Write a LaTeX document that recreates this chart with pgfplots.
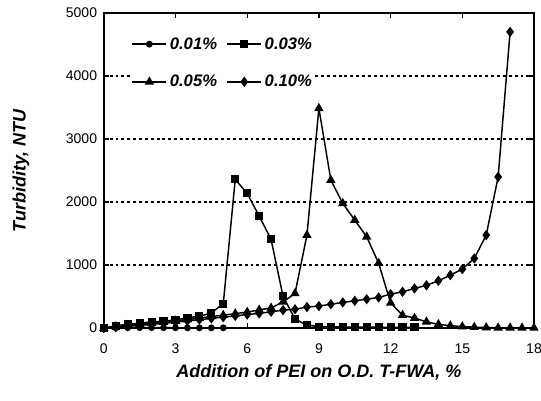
\documentclass[border=0pt]{standalone}
\usepackage{pgfplots}
\pgfplotsset{compat=1.18}
\usepackage{fontspec}
\setmainfont{Liberation Sans}
\begin{document}
\begin{tikzpicture}
\begin{axis}[
  scale only axis,
  width=322.5pt, height=236.25pt,
  xmin=0, xmax=18, ymin=0, ymax=5000,
  xtick={0,3,...,18}, ytick={0,1000,...,5000},
  tick align=inside,
  major tick length=4pt,
  tick style={line width=1pt,black},
  axis line style={line width=1.5pt},
  ymajorgrids,
  grid style={dash pattern=on 2.2pt off 2.2pt, line width=1.2pt, black},
  extra y ticks={4000}, extra y tick labels={},
  extra y tick style={grid style={dash pattern=on 2.2pt off 2.2pt, line width=1.2pt, black}},
  clip=false,
  /pgf/number format/assume math mode=true,
  /pgf/number format/set thousands separator={},
  tick label style={font=\fontsize{10.5pt}{12pt}\selectfont},
  xticklabel style={yshift=-8pt},
  yticklabel style={xshift=-1.5pt},
  every axis y label/.style={at={(axis description cs:0,0.5)}, xshift=-62pt, rotate=90, anchor=center},
  every axis x label/.style={at={(axis description cs:0.5,0)}, yshift=-33pt, anchor=center},
  label style={font=\fontsize{13.5pt}{15pt}\selectfont\bfseries\itshape},
  xlabel={Addition of PEI on O.D. T-FWA, \%},
  ylabel={Turbidity, NTU},
  legend columns=2,
  legend style={at={(axis cs:1.15,4660)}, anchor=north west, draw=none, fill=white,
    font=\fontsize{12.5pt}{14pt}\selectfont\bfseries\itshape,
    row sep=14pt, inner sep=0pt,
    /tikz/every even column/.append style={column sep=5pt}},
  legend image code/.code={\draw[mark repeat=2,mark phase=2,#1] plot coordinates {(0cm,0cm)(0.45cm,0cm)(0.9cm,0cm)};},
  every axis plot/.append style={black, line width=1.1pt, mark options={solid, fill=black}},
]
\addplot[mark=*, mark size=2pt] coordinates {
(0,0)(0.5,5)(1,8)(1.5,8)(2,8)(2.5,8)(3,6)(3.5,5)(4,5)(4.5,5)(5,5)};
\addlegendentry{0.01\%}
\addplot[mark=square*, mark size=2.5pt] coordinates {
(0,0)(0.5,40)(1,60)(1.5,80)(2,100)(2.5,110)(3,130)(3.5,165)(4,190)(4.5,240)(5,390)
(5.5,2360)(6,2138)(6.5,1778)(7,1408)(7.5,505)(8,145)(8.5,48)(9,25)(9.5,20)(10,18)
(10.5,16)(11,15)(11.5,15)(12,14)(12.5,14)(13,14)};
\addlegendentry{0.03\%}
\addplot[mark=triangle*, mark size=3pt] coordinates {
(0,0)(0.5,25)(1,45)(1.5,65)(2,80)(2.5,95)(3,115)(3.5,135)(4,160)(4.5,185)(5,206)
(5.5,230)(6,255)(6.5,290)(7,320)(7.5,417)(8,550)(8.5,1476)(9,3487)(9.5,2349)
(10,1979)(10.5,1714)(11,1449)(11.5,1030)(12,400)(12.5,206)(13,160)(13.5,100)
(14,60)(14.5,39)(15,25)(15.5,16)(16,10)(16.5,6)(17,5)(17.5,4)(18,3)};
\addlegendentry{0.05\%}
\addplot[mark=diamond*, mark size=3pt] coordinates {
(0,0)(0.5,15)(1,30)(1.5,45)(2,60)(2.5,75)(3,95)(3.5,115)(4,135)(4.5,155)(5,175)
(5.5,195)(6,215)(6.5,235)(7,260)(7.5,285)(8,300)(8.5,335)(9,350)(9.5,380)(10,408)
(10.5,433)(11,460)(11.5,487)(12,540)(12.5,577)(13,630)(13.5,680)(14,751)(14.5,841)
(15,936)(15.5,1106)(16,1476)(16.5,2400)(17,4700)};
\addlegendentry{0.10\%}
\end{axis}
\pgfresetboundingbox
\useasboundingbox ([shift={(-77.8pt,-54pt)}]current axis.south west) rectangle ([shift={(5.25pt,9.75pt)}]current axis.north east);
\end{tikzpicture}
\end{document}
